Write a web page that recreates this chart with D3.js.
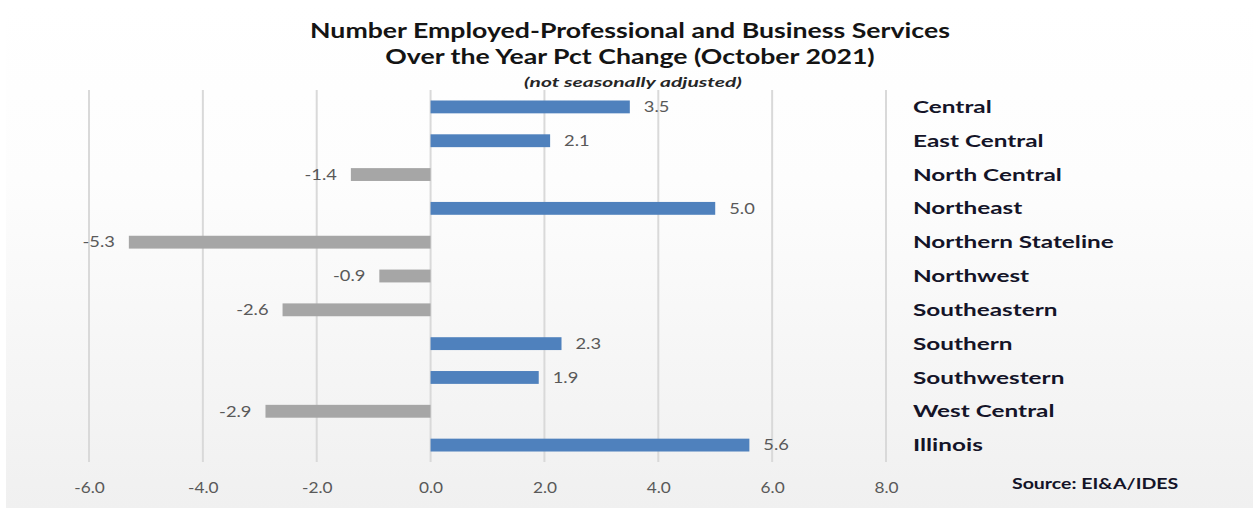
<!DOCTYPE html>
<html><head><meta charset="utf-8">
<script src="https://cdn.jsdelivr.net/npm/d3@7"></script>
<style>body{margin:0;background:#fff}svg{display:block}</style>
</head><body>
<svg id="c" width="1253" height="508"></svg>
<script>
const categories = ["Central","East Central","North Central","Northeast","Northern Stateline","Northwest","Southeastern","Southern","Southwestern","West Central","Illinois"];
const values = [3.5, 2.1, -1.4, 5.0, -5.3, -0.9, -2.6, 2.3, 1.9, -2.9, 5.6];
const tickValues = [-6, -4, -2, 0, 2, 4, 6, 8];
const titleLines = ["Number Employed-Professional and Business Services", "Over the Year Pct Change (October 2021)"];
const subtitle = "(not seasonally adjusted)";
const source = "Source: EI&A/IDES";

const svg = d3.select("#c");
const defs = svg.append("defs");
const g = defs.append("linearGradient").attr("id","bg").attr("x1",0).attr("x2",0).attr("y1",0).attr("y2",1);
g.append("stop").attr("offset","0%").attr("stop-color","#ffffff");
g.append("stop").attr("offset","35%").attr("stop-color","#fdfdfd");
g.append("stop").attr("offset","100%").attr("stop-color","#f0f0f0");
svg.append("rect").attr("x",6).attr("y",3).attr("width",1247).attr("height",505).attr("fill","url(#bg)");

const font = "Lato, 'Open Sans', sans-serif";
const fmt = v => d3.format(".1f")(v).replace("\u2212", "-");
function stretch(sel, k) {
  sel.each(function() {
    const w = this.getComputedTextLength();
    d3.select(this).attr("textLength", w * k).attr("lengthAdjust", "spacingAndGlyphs");
  });
}

const x = d3.scaleLinear().domain([-6, 8]).range([89, 886]);
const y = d3.scaleBand().domain(categories).range([90, 462]).paddingInner(0.62).paddingOuter(0.31);

// gridlines
svg.append("g").selectAll("line").data(tickValues).join("line")
  .attr("x1", d => x(d)).attr("x2", d => x(d)).attr("y1", 90).attr("y2", 462)
  .attr("stroke", "#d9d9d9").attr("stroke-width", 2);

// axis labels
const ax = svg.append("g").attr("transform","translate(0,490)")
  .call(d3.axisBottom(x).tickValues(tickValues).tickFormat(fmt).tickSize(0));
ax.select(".domain").remove();
ax.selectAll("text").attr("font-family", font).attr("font-size", 15).attr("fill", "#595959").attr("dy", 0);
stretch(ax.selectAll("text"), 1.15);

// bars
svg.append("g").selectAll("rect").data(categories).join("rect")
  .attr("x", (d,i) => x(Math.min(0, values[i])))
  .attr("width", (d,i) => Math.abs(x(values[i]) - x(0)))
  .attr("y", d => y(d)).attr("height", y.bandwidth())
  .attr("fill", (d,i) => values[i] >= 0 ? "#4f81bd" : "#a6a6a6");

// value labels
const vl = svg.append("g").selectAll("text").data(categories).join("text")
  .attr("x", (d,i) => values[i] >= 0 ? x(values[i]) + 14 : x(values[i]) - 14)
  .attr("y", d => y(d) + y.bandwidth()/2)
  .attr("dy", "0.35em")
  .attr("text-anchor", (d,i) => values[i] >= 0 ? "start" : "end")
  .attr("font-family", font).attr("font-size", 15).attr("fill", "#595959")
  .text((d,i) => fmt(values[i]));
stretch(vl, 1.22);

// category labels
const cl = svg.append("g").selectAll("text").data(categories).join("text")
  .attr("x", 913).attr("y", d => y(d) + y.bandwidth()/2).attr("dy","0.35em")
  .attr("font-family", font).attr("font-weight", "bold").attr("font-size", 17.5)
  .attr("fill", "#141428").text(d => d);
stretch(cl, 1.39);

// title
const tl = svg.append("g").selectAll("text").data(titleLines).join("text")
  .attr("x", 630).attr("y", (d,i) => 38 + i*26).attr("text-anchor","middle")
  .attr("font-family", font).attr("font-weight","bold").attr("font-size", 21)
  .attr("fill", "#141414").text(d => d);
stretch(tl, 1.27);
const st = svg.append("text").attr("x", 633).attr("y", 87).attr("text-anchor","middle")
  .attr("font-family", font).attr("font-weight","bold").attr("font-style","italic").attr("font-size", 14)
  .attr("fill", "#262626").text(subtitle);
stretch(st, 1.5);

const so = svg.append("text").attr("x", 1012).attr("y", 489)
  .attr("font-family", font).attr("font-weight","bold").attr("font-size", 15)
  .attr("fill", "#141428").text(source);
stretch(so, 1.3);
</script>
</body></html>
